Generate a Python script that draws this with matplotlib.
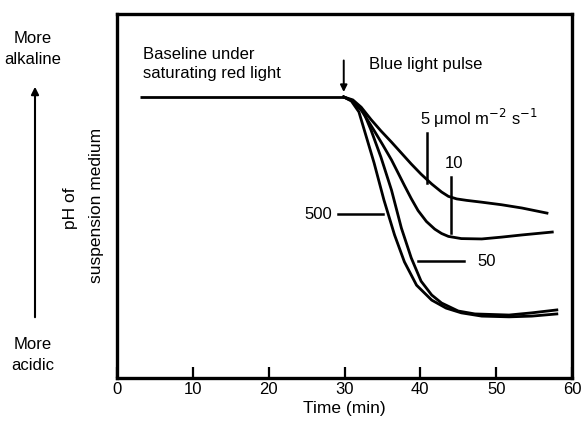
import matplotlib
matplotlib.use("Agg")
import matplotlib.pyplot as plt

plt.rcParams['font.family'] = ['Liberation Sans', 'DejaVu Sans']

# ---- data (relative pH, arbitrary units) ----
baseline_t = [3.0, 29.9]
baseline_v = [77.2, 77.2]

t_5 = [29.9, 31.1, 32.2, 33.5, 34.8, 36.2, 37.5, 38.8, 40.1, 41.5, 42.8, 43.7, 44.8, 46.1, 48.1, 50.7, 53.4, 56.7]
v_5 = [77.2, 76.4, 74.4, 71.0, 67.9, 64.8, 61.8, 58.8, 56.0, 53.3, 51.1, 49.9, 49.2, 48.8, 48.3, 47.6, 46.7, 45.3]

t_10 = [29.9, 31.1, 32.2, 33.0, 33.9, 35.0, 36.2, 37.1, 37.9, 38.8, 39.7, 40.8, 41.9, 42.8, 43.7, 45.4, 48.1, 50.7, 53.4, 57.4]
v_10 = [77.2, 76.1, 73.6, 71.0, 68.0, 64.2, 59.9, 56.2, 52.9, 49.3, 46.0, 43.0, 40.9, 39.7, 38.9, 38.3, 38.2, 38.7, 39.3, 40.1]

t_50 = [29.9, 31.1, 32.5, 33.5, 34.8, 36.2, 37.5, 38.8, 40.1, 41.5, 42.8, 45.0, 47.2, 51.7, 54.7, 58.0]
v_50 = [77.2, 76.1, 73.1, 68.1, 60.7, 51.6, 41.2, 33.0, 26.6, 22.8, 20.6, 18.4, 17.6, 17.3, 17.9, 18.7]

t_500 = [29.9, 30.9, 31.9, 32.8, 33.9, 35.2, 36.6, 37.9, 39.5, 41.5, 43.4, 45.4, 48.1, 51.7, 54.7, 58.0]
v_500 = [77.2, 76.1, 73.1, 66.8, 59.1, 48.9, 39.3, 31.9, 25.5, 21.4, 19.2, 17.9, 17.0, 16.8, 17.0, 17.6]

x_ticks = [0, 10, 20, 30, 40, 50, 60]
x_ticklabels = ["0", "10", "20", "30", "40", "50", "60"]

fig = plt.figure(figsize=(5.82, 4.30), dpi=100)
ax = fig.add_axes([117/582, 52/430, (572-117)/582, (378-14)/430])

lw = 2.0
ax.plot(baseline_t, baseline_v, color='black', lw=lw, solid_capstyle='butt')
ax.plot(t_5, v_5, color='black', lw=lw)
ax.plot(t_10, v_10, color='black', lw=lw)
ax.plot(t_50, v_50, color='black', lw=lw)
ax.plot(t_500, v_500, color='black', lw=lw)

ax.set_xlim(0, 60)
ax.set_ylim(0, 100)
ax.set_xticks(x_ticks)
ax.set_xticklabels(x_ticklabels, fontsize=12)
ax.set_yticks([])
ax.tick_params(axis='x', direction='in', length=8, width=1.6, pad=3)
for s in ax.spines.values():
    s.set_linewidth(2.4)
ax.set_xlabel("Time (min)", fontsize=12.5, labelpad=3)

fs = 12
ax.text(3.4, 86.3, "Baseline under\nsaturating red light", fontsize=fs, va='center', ha='left', linespacing=1.35)
ax.annotate("", xy=(29.9, 77.8), xytext=(29.9, 88.0),
            arrowprops=dict(arrowstyle='-|>', color='black', lw=1.4, mutation_scale=10))
ax.text(33.2, 86.0, "Blue light pulse", fontsize=fs, va='center', ha='left')
ax.text(40.0, 71.4, "5 μmol m$^{-2}$ s$^{-1}$", fontsize=fs, va='center', ha='left')
ax.plot([40.9, 40.9], [67.3, 53.6], color='black', lw=1.8)
ax.text(44.4, 59.0, "10", fontsize=fs, va='center', ha='center')
ax.plot([44.1, 44.1], [55.2, 39.8], color='black', lw=1.8)
ax.text(28.4, 45.0, "500", fontsize=fs, va='center', ha='right')
ax.plot([29.1, 35.1], [45.0, 45.0], color='black', lw=1.8)
ax.text(47.5, 32.1, "50", fontsize=fs, va='center', ha='left')
ax.plot([39.7, 45.8], [32.1, 32.1], color='black', lw=1.8)

# left-side annotations
fig.text(33/582, 1 - 49/430, "More\nalkaline", fontsize=12, ha='center', va='center', linespacing=1.5)
fig.text(33/582, 1 - 355/430, "More\nacidic", fontsize=12, ha='center', va='center', linespacing=1.5)
fig.patches.append(matplotlib.patches.FancyArrowPatch(
    (35/582, 1 - 320/430), (35/582, 1 - 84/430), transform=fig.transFigure,
    arrowstyle='-|>', mutation_scale=11, color='black', lw=1.5))
fig.text(70/582, 1 - 208/430, "pH of", fontsize=12.5, rotation=90, ha='center', va='center')
fig.text(97/582, 1 - 205/430, "suspension medium", fontsize=12.5, rotation=90, ha='center', va='center')

fig.savefig("out.png", dpi=100)
